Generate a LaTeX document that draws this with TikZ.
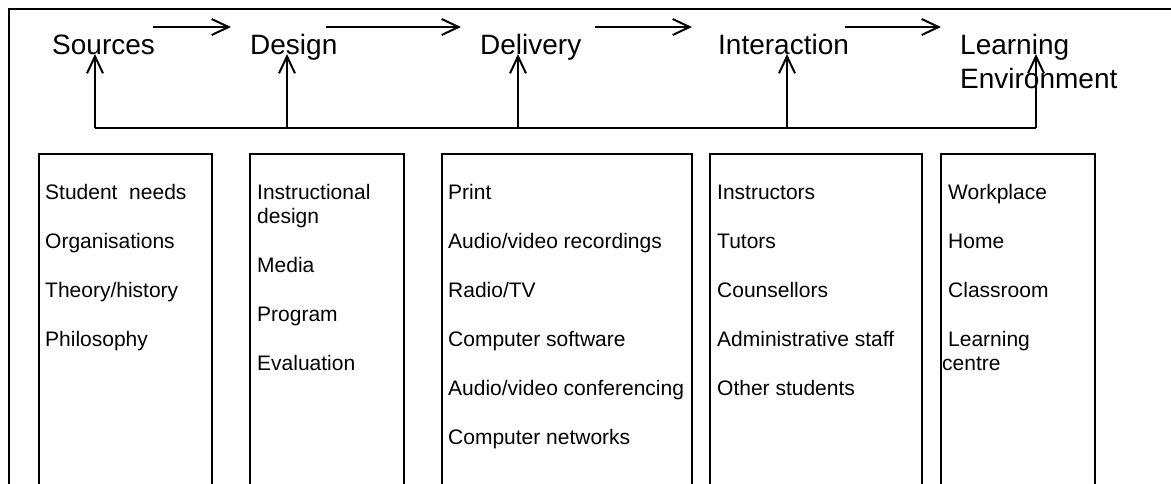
\documentclass[tikz,border=0pt]{standalone}
\usepackage{fontspec}
\setmainfont{Liberation Sans}
\usetikzlibrary{arrows.meta,calc}

\begin{document}
\begin{tikzpicture}[x=1pt,y=-1pt,>={Straight Barb[length=17pt,width=16pt]}]
\tikzstyle{head}=[inner sep=0,anchor=base west,align=left,font=\fontsize{28}{34}\selectfont]
\tikzstyle{col}=[draw,line width=1.5pt,anchor=north west,minimum height=400pt,inner sep=0]
\tikzstyle{items}=[inner sep=0,anchor=base west,align=left,font=\fontsize{21}{24}\selectfont]
\tikzstyle{flow}=[->,line width=2pt]
\tikzstyle{bar}=[line width=2pt]
\useasboundingbox (0,0) rectangle (1171,483);
\clip (0,0) rectangle (1171,483);
\draw[bar] (9,500) -- (9,9) -- (1200,9);
% stages (base = last line)
\node[head] (SRC) at (52,54) {Sources};
\node[head] (DES) at (250,54) {Design};
\node[head] (DEL) at (480,54) {Delivery};
\node[head] (INT) at (718,54) {Interaction};
\node[head] (ENV) at (960,88) {Learning\\Environment};
% arrows along the top
\coordinate (t1) at (153,27); \coordinate (t2) at (231,27);
\coordinate (t3) at (326,27); \coordinate (t4) at (461,27);
\coordinate (t5) at (595,27); \coordinate (t6) at (692,27);
\coordinate (t7) at (845,27); \coordinate (t8) at (941,27);
\draw[flow] (t1)--(t2); \draw[flow] (t3)--(t4);
\draw[flow] (t5)--(t6); \draw[flow] (t7)--(t8);
% joining bar
\coordinate (b1) at (95,128);  \coordinate (b2) at (287,128);
\coordinate (b3) at (518,128); \coordinate (b4) at (787,128);
\coordinate (b5) at (1036,128);
\draw[bar] (b1)--(b5);
\draw[flow] (b1)--(b1 |- SRC.base); \draw[flow] (b2)--(b2 |- DES.base);
\draw[flow] (b3)--(b3 |- DEL.base); \draw[flow] (b4)--(b4 |- INT.base);
\draw[flow] (b5)--($(b5 |- ENV.base)+(0,-34)$);
% columns
\node[col,minimum width=173pt] (C1) at (38,153) {};
\node[col,minimum width=154pt] (C2) at (249,153) {};
\node[col,minimum width=250pt] (C3) at (441,153) {};
\node[col,minimum width=212pt] (C4) at (709,153) {};
\node[col,minimum width=154pt] (C5) at (940,153) {};
\node[items] (L1) at ($(C1.north west)+(7,193)$) {Student\ \ needs\\[25pt]Organisations\\[25pt]Theory/history\\[25pt]Philosophy};
\node[items] (L2) at ($(C2.north west)+(8,217)$) {Instructional\\design\\[25pt]Media\\[25pt]Program\\[25pt]Evaluation};
\node[items] (L3) at ($(C3.north west)+(7,291)$) {Print\\[25pt]Audio/video recordings\\[25pt]Radio/TV\\[25pt]Computer software\\[25pt]Audio/video conferencing\\[25pt]Computer networks};
\node[items] (L4) at ($(C4.north west)+(8,242)$) {Instructors\\[25pt]Tutors\\[25pt]Counsellors\\[25pt]Administrative staff\\[25pt]Other students};
\node[items] (L5) at ($(C5.north west)+(8,217)$) {Workplace\\[25pt]Home\\[25pt]Classroom\\[25pt]Learning\\\hspace*{-6pt}centre};
\end{tikzpicture}
\end{document}
